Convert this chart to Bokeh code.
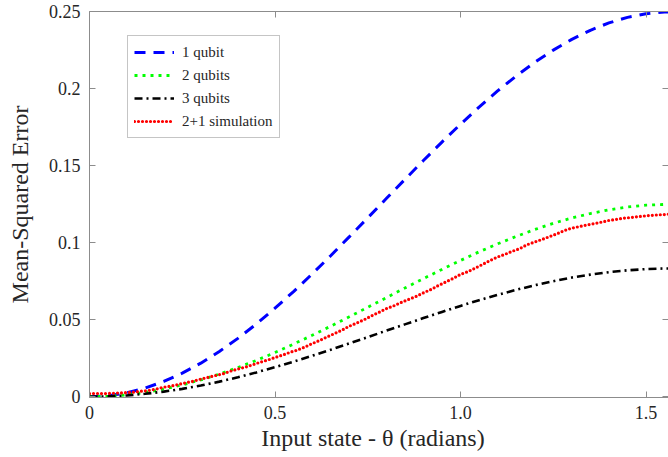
from bokeh.plotting import figure
from bokeh.models import LinearAxis, FixedTicker, Range1d, Legend, LegendItem
from bokeh.embed import file_html
from bokeh.resources import INLINE

# ---- data ----
theta = [0.00, 0.05, 0.10, 0.15, 0.20, 0.25, 0.30, 0.35, 0.40, 0.45, 0.50,
         0.55, 0.60, 0.65, 0.70, 0.75, 0.80, 0.85, 0.90, 0.95, 1.00, 1.05,
         1.10, 1.15, 1.20, 1.25, 1.30, 1.35, 1.40, 1.45, 1.50, 1.55, 1.5708]
mse_1qubit = [0.0000, 0.0006, 0.0025, 0.0056, 0.0099, 0.0153, 0.0218, 0.0294,
              0.0379, 0.0473, 0.0575, 0.0683, 0.0797, 0.0916, 0.1038, 0.1162,
              0.1287, 0.1411, 0.1534, 0.1654, 0.1770, 0.1881, 0.1986, 0.2083,
              0.2172, 0.2251, 0.2321, 0.2380, 0.2428, 0.2464, 0.2487, 0.2499,
              0.2500]
mse_2qubits = [0.0000, 0.0003, 0.0012, 0.0028, 0.0049, 0.0077, 0.0109, 0.0147,
               0.0190, 0.0236, 0.0287, 0.0342, 0.0399, 0.0458, 0.0519, 0.0581,
               0.0643, 0.0706, 0.0767, 0.0827, 0.0885, 0.0941, 0.0993, 0.1041,
               0.1086, 0.1126, 0.1161, 0.1190, 0.1214, 0.1232, 0.1244, 0.1249,
               0.1250]
mse_3qubits = [0.0000, 0.0002, 0.0008, 0.0019, 0.0033, 0.0051, 0.0073, 0.0098,
               0.0126, 0.0158, 0.0192, 0.0228, 0.0266, 0.0305, 0.0346, 0.0387,
               0.0429, 0.0470, 0.0511, 0.0551, 0.0590, 0.0627, 0.0662, 0.0694,
               0.0724, 0.0750, 0.0774, 0.0793, 0.0809, 0.0821, 0.0829, 0.0833,
               0.0833]

theta_sim = [0.00, 0.02, 0.04, 0.06, 0.08, 0.10, 0.12, 0.14, 0.16, 0.18,
             0.20, 0.22, 0.24, 0.26, 0.28, 0.30, 0.32, 0.34, 0.36, 0.38,
             0.40, 0.42, 0.44, 0.46, 0.48, 0.50, 0.52, 0.54, 0.56, 0.58,
             0.60, 0.62, 0.64, 0.66, 0.68, 0.70, 0.72, 0.74, 0.76, 0.78,
             0.80, 0.82, 0.84, 0.86, 0.88, 0.90, 0.92, 0.94, 0.96, 0.98,
             1.00, 1.02, 1.04, 1.06, 1.08, 1.10, 1.12, 1.14, 1.16, 1.18,
             1.20, 1.22, 1.24, 1.26, 1.28, 1.30, 1.32, 1.34, 1.36, 1.38,
             1.40, 1.42, 1.44, 1.46, 1.48, 1.50, 1.52, 1.54, 1.56, 1.5708]
mse_sim = [0.0020, 0.0021, 0.0020, 0.0022, 0.0024, 0.0027, 0.0030, 0.0036, 0.0041, 0.0050,
           0.0062, 0.0069, 0.0080, 0.0091, 0.0101, 0.0115, 0.0126, 0.0138, 0.0149, 0.0166,
           0.0180, 0.0192, 0.0208, 0.0224, 0.0238, 0.0255, 0.0270, 0.0288, 0.0303, 0.0322,
           0.0345, 0.0365, 0.0388, 0.0410, 0.0432, 0.0458, 0.0478, 0.0500, 0.0525, 0.0548,
           0.0572, 0.0590, 0.0612, 0.0632, 0.0651, 0.0675, 0.0696, 0.0722, 0.0745, 0.0768,
           0.0795, 0.0812, 0.0836, 0.0860, 0.0885, 0.0908, 0.0925, 0.0945, 0.0962, 0.0988,
           0.1005, 0.1022, 0.1040, 0.1058, 0.1080, 0.1095, 0.1105, 0.1115, 0.1124, 0.1134,
           0.1145, 0.1152, 0.1160, 0.1164, 0.1170, 0.1175, 0.1179, 0.1182, 0.1185, 0.1184]

x_ticks = [0, 0.5, 1.0, 1.5]
x_tick_labels = ["0", "0.5", "1.0", "1.5"]
y_ticks = [0, 0.05, 0.1, 0.15, 0.2, 0.25]
y_tick_labels = ["0", "0.05", "0.1", "0.15", "0.2", "0.25"]
series_names = ["1 qubit", "2 qubits", "3 qubits", "2+1 simulation"]

FONT = "Liberation Serif"
AXIS_GRAY = "#8c8c8c"
TEXT = "#262626"

p = figure(width=668, height=457, output_backend="svg", toolbar_location=None,
           x_range=Range1d(0, 1.5606), y_range=Range1d(-0.0005, 0.2502),
           min_border_left=89, min_border_right=0, min_border_top=11,
           min_border_bottom=60, background_fill_color="white",
           border_fill_color="white", outline_line_color=None)
p.grid.visible = False

r1 = p.line(theta, mse_1qubit, line_color="#0000ff", line_width=3, line_dash="11 8")
r2 = p.line(theta, mse_2qubits, line_color="#00ff00", line_width=2.8, line_dash="3 5")
r3 = p.line(theta, mse_3qubits, line_color="#000000", line_width=2.6, line_dash="8 4 2 4")
r4 = p.line(theta_sim, mse_sim, line_color="#ff0000", line_width=3.2, line_dash="0 4",
            line_cap="round")


def style_axis(ax, ticks, labels, show_labels=True):
    ax.ticker = FixedTicker(ticks=ticks)
    ax.major_label_overrides = {t: l for t, l in zip(ticks, labels)}
    ax.axis_line_color = AXIS_GRAY
    ax.major_tick_line_color = AXIS_GRAY
    ax.major_tick_in = 6
    ax.major_tick_out = 0
    ax.minor_tick_line_color = None
    ax.major_label_text_font = FONT
    ax.major_label_text_color = TEXT
    if show_labels:
        ax.major_label_text_font_size = "18px"
    else:
        ax.major_label_text_font_size = "0px"
        ax.major_label_standoff = 0


style_axis(p.xaxis[0], x_ticks, x_tick_labels)
style_axis(p.yaxis[0], y_ticks, y_tick_labels)
p.xaxis[0].major_label_standoff = 8
p.yaxis[0].major_label_standoff = 9

p.xaxis[0].axis_label = "Input state -  \u03b8  (radians)"
p.yaxis[0].axis_label = "Mean-Squared Error"
for ax in (p.xaxis[0], p.yaxis[0]):
    ax.axis_label_text_font = FONT
    ax.axis_label_text_font_size = "24px"
    ax.axis_label_text_font_style = "normal"
    ax.axis_label_text_color = TEXT
p.xaxis[0].axis_label_standoff = 3
p.yaxis[0].axis_label_standoff = 13

top_ax = LinearAxis()
style_axis(top_ax, x_ticks, ["", "", "", ""], show_labels=False)
p.add_layout(top_ax, "above")
right_ax = LinearAxis()
style_axis(right_ax, y_ticks, ["", "", "", "", "", ""], show_labels=False)
right_ax.axis_line_color = None
p.add_layout(right_ax, "right")

legend = Legend(items=[LegendItem(label=n, renderers=[r]) for n, r in
                       zip(series_names, [r1, r2, r3, r4])],
                location=(38, 259))
legend.label_text_font = FONT
legend.label_text_font_size = "15px"
legend.label_text_color = TEXT
legend.glyph_width = 40
legend.glyph_height = 20
legend.label_height = 20
legend.label_standoff = 8
legend.spacing = 3
legend.padding = 6
legend.margin = 0
legend.border_line_color = "#8c8c8c"
legend.border_line_width = 1
legend.background_fill_color = "white"
legend.background_fill_alpha = 1.0
p.add_layout(legend, "center")

open("out.html", "w").write(file_html(p, INLINE))
